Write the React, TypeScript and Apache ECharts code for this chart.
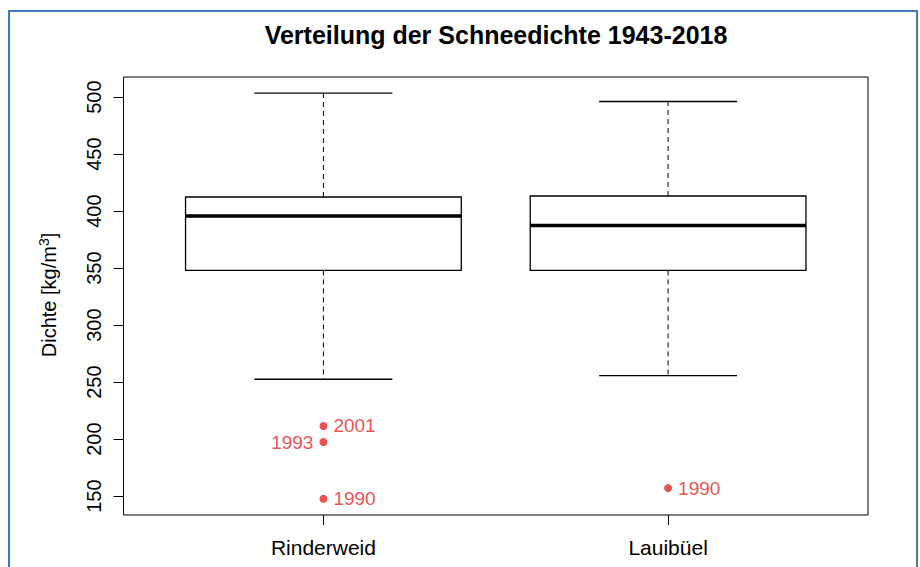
import { useEffect, useRef } from "react";
import * as echarts from "echarts";

const chartTitle = "Verteilung der Schneedichte 1943-2018";
const categories = ["Rinderweid", "Lauibüel"];
const whiskerLow = [252.5, 255.7];
const quartile1 = [348.0, 348.0];
const medians = [395.8, 387.5];
const quartile3 = [412.4, 413.3];
const whiskerHigh = [503.5, 496.2];
const outlierCategory = [0, 0, 0, 1];
const outlierValue = [211.5, 197.4, 147.6, 157.0];
const outlierYear = ["2001", "1993", "1990", "1990"];
const outlierLabelSide = ["right", "left", "right", "right"];
const yTicks = [150, 200, 250, 300, 350, 400, 450, 500];
const yMin = 133.4;
const yMax = 517.7;

const FONT = "'Liberation Sans', Arial, Helvetica, sans-serif";
const RED = "#e82424";

export default function App() {
  const ref = useRef<HTMLDivElement>(null);
  useEffect(() => {
    if (!ref.current) return;
    const chart = echarts.init(ref.current, null, { renderer: "svg" });
    const boxData = categories.map((_, i) => [
      i + 1,
      whiskerLow[i],
      quartile1[i],
      medians[i],
      quartile3[i],
      whiskerHigh[i],
    ]);
    const outlierData = outlierValue.map((v, i) => ({
      value: [outlierCategory[i] + 1, v],
      name: outlierYear[i],
      label: { position: outlierLabelSide[i] },
    }));
    const option: any = {
      animation: false,
      backgroundColor: "#ffffff",
      textStyle: { fontFamily: FONT },
      grid: {
        left: 123.5,
        right: 52,
        top: 77,
        bottom: 52,
        show: true,
        borderColor: "#000",
        borderWidth: 1,
        backgroundColor: "transparent",
      },
      xAxis: {
        type: "value",
        min: 0.42,
        max: 2.58,
        axisLine: { show: false },
        splitLine: { show: false },
        axisTick: {
          show: true,
          customValues: [1, 2],
          length: 10,
          inside: false,
          lineStyle: { color: "#000", width: 1 },
        },
        axisLabel: {
          customValues: [1, 2],
          formatter: (v: number) => categories[Math.round(v) - 1] ?? "",
          fontSize: 21,
          color: "#000",
          margin: 22,
          fontFamily: FONT,
        },
      },
      yAxis: {
        type: "value",
        min: yMin,
        max: yMax,
        axisLine: { show: false },
        splitLine: { show: false },
        axisTick: {
          show: true,
          customValues: yTicks,
          length: 10,
          inside: false,
          lineStyle: { color: "#000", width: 1 },
        },
        axisLabel: {
          customValues: yTicks,
          rotate: 90,
          fontSize: 20,
          color: "#000",
          margin: 20,
          fontFamily: FONT,
        },
      },
      series: [
        {
          type: "custom",
          data: boxData,
          renderItem: (_params: any, api: any) => {
            const x = api.value(0);
            const [cx, yLo] = api.coord([x, api.value(1)]);
            const yQ1 = api.coord([x, api.value(2)])[1];
            const yMed = api.coord([x, api.value(3)])[1];
            const yQ3 = api.coord([x, api.value(4)])[1];
            const yHi = api.coord([x, api.value(5)])[1];
            const halfBox = api.size([0.4, 0])[0];
            const halfCap = api.size([0.2, 0])[0];
            const dashed = { stroke: "#000", lineWidth: 1, lineDash: [5, 4] };
            const solid = { stroke: "#000", lineWidth: 1.3 };
            return {
              type: "group",
              children: [
                { type: "line", shape: { x1: cx, y1: yQ3, x2: cx, y2: yHi }, style: dashed },
                { type: "line", shape: { x1: cx, y1: yQ1, x2: cx, y2: yLo }, style: dashed },
                { type: "line", shape: { x1: cx - halfCap, y1: yHi, x2: cx + halfCap, y2: yHi }, style: solid },
                { type: "line", shape: { x1: cx - halfCap, y1: yLo, x2: cx + halfCap, y2: yLo }, style: solid },
                {
                  type: "rect",
                  shape: { x: cx - halfBox, y: yQ3, width: halfBox * 2, height: yQ1 - yQ3 },
                  style: { fill: "#fff", stroke: "#000", lineWidth: 1.3 },
                },
                {
                  type: "line",
                  shape: { x1: cx - halfBox, y1: yMed, x2: cx + halfBox, y2: yMed },
                  style: { stroke: "#000", lineWidth: 3.5 },
                },
              ],
            };
          },
        },
        {
          type: "scatter",
          data: outlierData,
          symbol: "circle",
          symbolSize: 8,
          itemStyle: { color: RED },
          label: {
            show: true,
            formatter: (p: any) => p.name,
            color: RED,
            fontSize: 19,
            distance: 6,
            fontFamily: FONT,
          },
          z: 5,
        },
      ],
      graphic: [
        {
          type: "rect",
          shape: { x: 9, y: 11, width: 908, height: 580 },
          style: { fill: "none", stroke: "#3f7ab5", lineWidth: 2 },
          silent: true,
        },
        {
          type: "text",
          x: 496,
          y: 35,
          style: {
            text: chartTitle,
            font: `bold 25px ${FONT}`,
            fill: "#000",
            align: "center",
            verticalAlign: "middle",
          },
        },
        {
          type: "text",
          x: 49,
          y: 295,
          rotation: Math.PI / 2,
          style: {
            text: "{a|Dichte [kg/m}{s|3}{a|]}",
            align: "center",
            verticalAlign: "middle",
            fill: "#000",
            rich: {
              a: { fontSize: 20, fontFamily: FONT, fill: "#000", lineHeight: 24 },
              s: { fontSize: 14, fontFamily: FONT, fill: "#000", verticalAlign: "top", lineHeight: 24 },
            },
          },
        },
      ],
    };
    chart.setOption(option);
    return () => chart.dispose();
  }, []);
  return (
    <div
      ref={ref}
      style={{ position: "absolute", left: 0, top: 0, width: 920, height: 567 }}
    />
  );
}
